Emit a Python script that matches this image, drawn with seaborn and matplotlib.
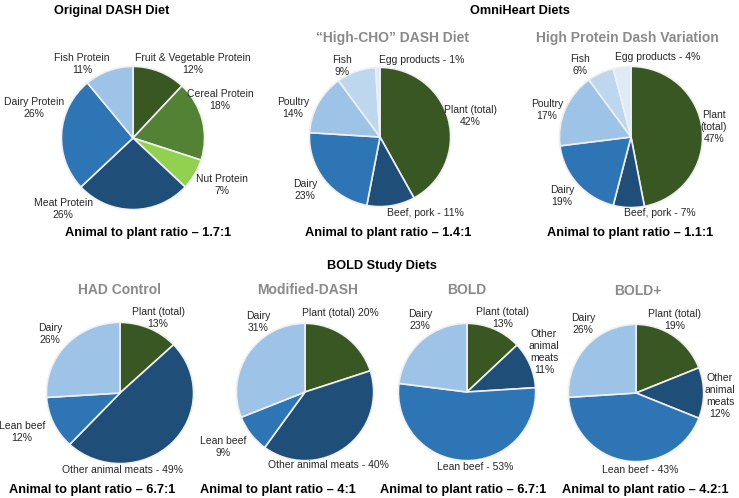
import matplotlib
matplotlib.use("Agg")
import matplotlib.pyplot as plt
import seaborn as sns

sns.set_theme(style="white")
plt.rcParams["font.family"] = ["Liberation Sans", "DejaVu Sans"]

W, H = 739, 498

# colours
DKGREEN = "#385723"
GREEN = "#548235"
LTGREEN = "#92d050"
NAVY = "#1f4e79"
BLUE = "#2e75b6"
LTBLUE = "#9dc3e6"
PALEBLUE = "#bdd7ee"
PALEST = "#deebf7"

# data (percent of protein)
dash_labels = ["Fruit & Vegetable Protein", "Cereal Protein", "Nut Protein",
               "Meat Protein", "Dairy Protein", "Fish Protein"]
dash_values = [12, 18, 7, 26, 26, 11]

omni_labels = ["Plant (total)", "Beef, pork", "Dairy", "Poultry", "Fish", "Egg products"]
highcho_values = [42, 11, 23, 14, 9, 1]
highprot_values = [47, 7, 19, 17, 6, 4]

bold_labels = ["Plant (total)", "Other animal meats", "Lean beef", "Dairy"]
had_values = [13, 49, 12, 26]
moddash_values = [20, 40, 9, 31]
bold_values = [13, 11, 53, 23]
boldplus_values = [19, 12, 43, 26]

ratios = ["1.7:1", "1.4:1", "1.1:1", "6.7:1", "4:1", "6.7:1", "4.2:1"]

fig = plt.figure(figsize=(W / 100, H / 100), dpi=100)


def pie(cx, cy, rx, ry, values, colors):
    ax = fig.add_axes([(cx - rx) / W, 1 - (cy + ry) / H, 2 * rx / W, 2 * ry / H])
    ax.pie(values, colors=colors, startangle=90, counterclock=False, radius=1,
           wedgeprops=dict(edgecolor="#f0f0f0", linewidth=1.2))
    ax.set_aspect("auto")
    ax.set_xlim(-1.02, 1.02)
    ax.set_ylim(-1.02, 1.02)
    ax.axis("off")
    return ax


def txt(x, y, s, size=7.5, color="#262626", weight="normal", ha="center"):
    fig.text(x / W, 1 - y / H, s, ha=ha, va="center", fontsize=size,
             color=color, fontweight=weight, linespacing=1.25)


def head(x, y, s):
    txt(x, y, s, size=9.2, color="black", weight="bold")


def sub(x, y, s):
    txt(x, y, s, size=10, color="#8a8a8a", weight="bold")


# headings
head(112, 11, "Original DASH Diet")
head(520, 11, "OmniHeart Diets")
head(382, 266, "BOLD Study Diets")
sub(392, 38, "\u201cHigh-CHO\u201d DASH Diet")
sub(627, 38, "High Protein Dash Variation")
sub(120, 290, "HAD Control")
sub(308, 290, "Modified-DASH")
sub(467, 290, "BOLD")
sub(638, 291, "BOLD+")

# top row
pie(133, 138, 73, 73, dash_values, [DKGREEN, GREEN, LTGREEN, NAVY, BLUE, LTBLUE])
omni_cols = [DKGREEN, NAVY, BLUE, LTBLUE, PALEBLUE, PALEST]
pie(380, 137, 72, 71, highcho_values, omni_cols)
pie(631, 137, 73, 72, highprot_values, omni_cols)

# bottom row
bold_cols = [DKGREEN, NAVY, BLUE, LTBLUE]
pie(120, 393, 75, 72, had_values, bold_cols)
pie(305, 392, 70, 70, moddash_values, bold_cols)
pie(467, 392, 70, 70, bold_values, bold_cols)
pie(636, 393, 69, 70, boldplus_values, bold_cols)

# slice labels - original DASH
txt(193, 64, f"{dash_labels[0]}\n{dash_values[0]}%")
txt(220, 100, f"{dash_labels[1]}\n{dash_values[1]}%")
txt(222, 185, f"{dash_labels[2]}\n{dash_values[2]}%")
txt(63, 209, f"{dash_labels[3]}\n{dash_values[3]}%")
txt(34, 108, f"{dash_labels[4]}\n{dash_values[4]}%")
txt(82, 64, f"{dash_labels[5]}\n{dash_values[5]}%")

# High-CHO
txt(470, 116, f"Plant (total)\n{highcho_values[0]}%")
txt(425, 213, f"{omni_labels[1]} - {highcho_values[1]}%")
txt(305, 190, f"{omni_labels[2]}\n{highcho_values[2]}%")
txt(293, 108, f"{omni_labels[3]}\n{highcho_values[3]}%")
txt(342, 66, f"{omni_labels[4]}\n{highcho_values[4]}%")
txt(422, 60, f"{omni_labels[5]} - {highcho_values[5]}%")

# High protein
txt(714, 127, f"Plant\n(total)\n{highprot_values[0]}%")
txt(660, 213, f"{omni_labels[1]} - {highprot_values[1]}%")
txt(562, 196, f"{omni_labels[2]}\n{highprot_values[2]}%")
txt(547, 110, f"{omni_labels[3]}\n{highprot_values[3]}%")
txt(580, 65, f"{omni_labels[4]}\n{highprot_values[4]}%")
txt(658, 57, f"{omni_labels[5]} - {highprot_values[5]}%")

# HAD control
txt(158, 318, f"{bold_labels[0]}\n{had_values[0]}%")
txt(123, 470, f"{bold_labels[1]} - {had_values[1]}%")
txt(22, 432, f"{bold_labels[2]}\n{had_values[2]}%")
txt(50, 334, f"{bold_labels[3]}\n{had_values[3]}%")

# Modified-DASH
txt(340, 313, f"{bold_labels[0]} {moddash_values[0]}%")
txt(328, 465, f"{bold_labels[1]} - {moddash_values[1]}%")
txt(223, 447, f"{bold_labels[2]}\n{moddash_values[2]}%")
txt(258, 322, f"{bold_labels[3]}\n{moddash_values[3]}%")

# BOLD
txt(503, 318, f"{bold_labels[0]}\n{bold_values[0]}%")
txt(544, 352, f"Other\nanimal\nmeats\n{bold_values[1]}%")
txt(475, 467, f"{bold_labels[2]} - {bold_values[2]}%")
txt(420, 320, f"{bold_labels[3]}\n{bold_values[3]}%")

# BOLD+
txt(675, 320, f"{bold_labels[0]}\n{boldplus_values[0]}%")
txt(720, 396, f"Other\nanimal\nmeats\n{boldplus_values[1]}%")
txt(640, 470, f"{bold_labels[2]} - {boldplus_values[2]}%")
txt(583, 324, f"{bold_labels[3]}\n{boldplus_values[3]}%")

# ratios
ratio_pos = [(148, 233), (388, 233), (630, 233),
             (92, 490), (278, 490), (463, 490), (645, 490)]
for (x, y), r in zip(ratio_pos, ratios):
    txt(x, y, f"Animal to plant ratio \u2013 {r}", size=9.2, color="black", weight="bold")

fig.savefig("out.png", dpi=100)
